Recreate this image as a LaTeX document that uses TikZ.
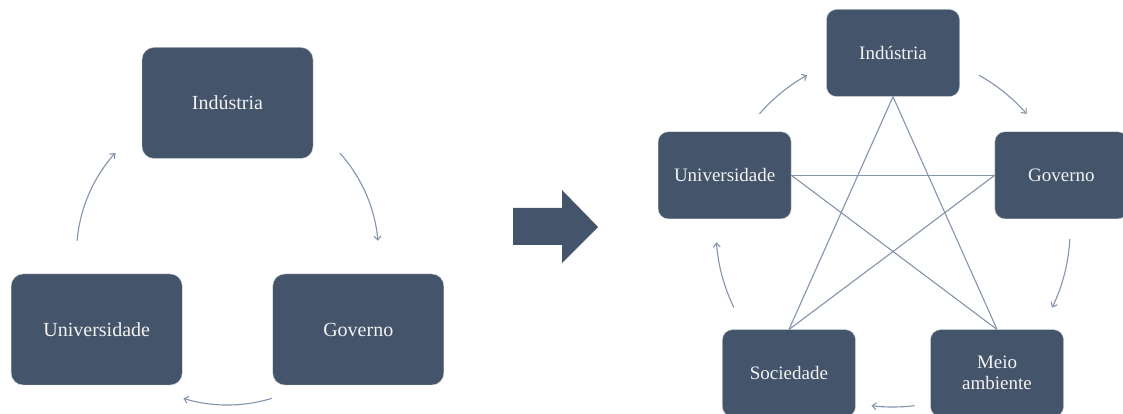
\documentclass[tikz,border=0pt]{standalone}
\usepackage{fontspec}
\setmainfont{Liberation Serif}
\usetikzlibrary{arrows.meta,calc}
\definecolor{slate}{HTML}{44546A}
\definecolor{slateline}{HTML}{8394AC}
\definecolor{slateedge}{HTML}{C5CBD4}
\definecolor{paper}{HTML}{F2F2F2}
\tikzset{
  bigcard/.style  = {rounded corners=12pt, draw=slateedge, fill=slate, text=paper,
                     align=center, minimum width=171pt, minimum height=111pt,
                     font=\fontsize{20}{22}\selectfont},
  card/.style     = {rounded corners=10pt, draw=slateedge, fill=slate, text=paper,
                     align=center, minimum width=133pt, minimum height=87pt,
                     font=\fontsize{19}{21}\selectfont},
  cycflow/.style  = {-{Straight Barb[length=4pt,width=7pt]}, draw=slateline, line width=1.1pt},
  starline/.style = {draw=slateline, line width=1.1pt},
}
\begin{document}
\begin{tikzpicture}[x=1pt,y=1pt]
    \useasboundingbox (0,0) rectangle (1123,414);
    % left: three partners
    \coordinate (lc) at (227.5,160);
    \node[bigcard] (ind) at ($(lc)+(90:151pt)$) {Indústria};
    \node[bigcard] (uni) at ($(lc)+(210:151pt)$) {Universidade};
    \node[bigcard] (gov) at ($(lc)+(330:151pt)$) {Governo};
    \coordinate (ui) at ($(lc)+(175:151pt)$);
    \coordinate (ig) at ($(lc)+(42:151pt)$);
    \coordinate (gu) at ($(lc)+(-73:151pt)$);
    \draw[cycflow] (ui) arc[start angle=175, end angle=138, radius=151pt];
    \draw[cycflow] (ig) arc[start angle=42, end angle=5, radius=151pt];
    \draw[cycflow] (gu) arc[start angle=-73, end angle=-107, radius=151pt];
    % big arrow
    \coordinate (sa) at (513,206);
    \fill[slate] (sa) -- (562,206) -- (562,224) -- (598,187) -- (562,151)
                 -- (562,169) -- (513,169) -- cycle;
    % right: five partners
    \coordinate (rc) at (893,184);
    \node[card] (ind2) at ($(rc)+(90:177pt)$) {Indústria};
    \node[card] (uni2) at ($(rc)+(162:177pt)$) {Universidade};
    \node[card] (gov2) at ($(rc)+(18:177pt)$) {Governo};
    \node[card] (soc)  at ($(rc)+(234:177pt)$) {Sociedade};
    \node[card] (meio) at ($(rc)+(306:177pt)$) {Meio\\ambiente};
    \draw[starline] (ind2.south) -- (soc.north);
    \draw[starline] (ind2.south) -- (meio.north);
    \draw[starline] (uni2.east) -- (gov2.west);
    \draw[starline] (uni2.east) -- (meio.north);
    \draw[starline] (gov2.west) -- (soc.north);
    \coordinate (ui2) at ($(rc)+(139:177pt)$);
    \coordinate (ig2) at ($(rc)+(61:177pt)$);
    \coordinate (gm)  at ($(rc)+(-3:177pt)$);
    \coordinate (ms)  at ($(rc)+(-83:177pt)$);
    \coordinate (su)  at ($(rc)+(206:177pt)$);
    \draw[cycflow] (ui2) arc[start angle=139, end angle=119, radius=177pt];
    \draw[cycflow] (ig2) arc[start angle=61, end angle=41, radius=177pt];
    \draw[cycflow] (gm) arc[start angle=-3, end angle=-26, radius=177pt];
    \draw[cycflow] (ms) arc[start angle=-83, end angle=-97, radius=177pt];
    \draw[cycflow] (su) arc[start angle=206, end angle=184, radius=177pt];
\end{tikzpicture}
\end{document}
